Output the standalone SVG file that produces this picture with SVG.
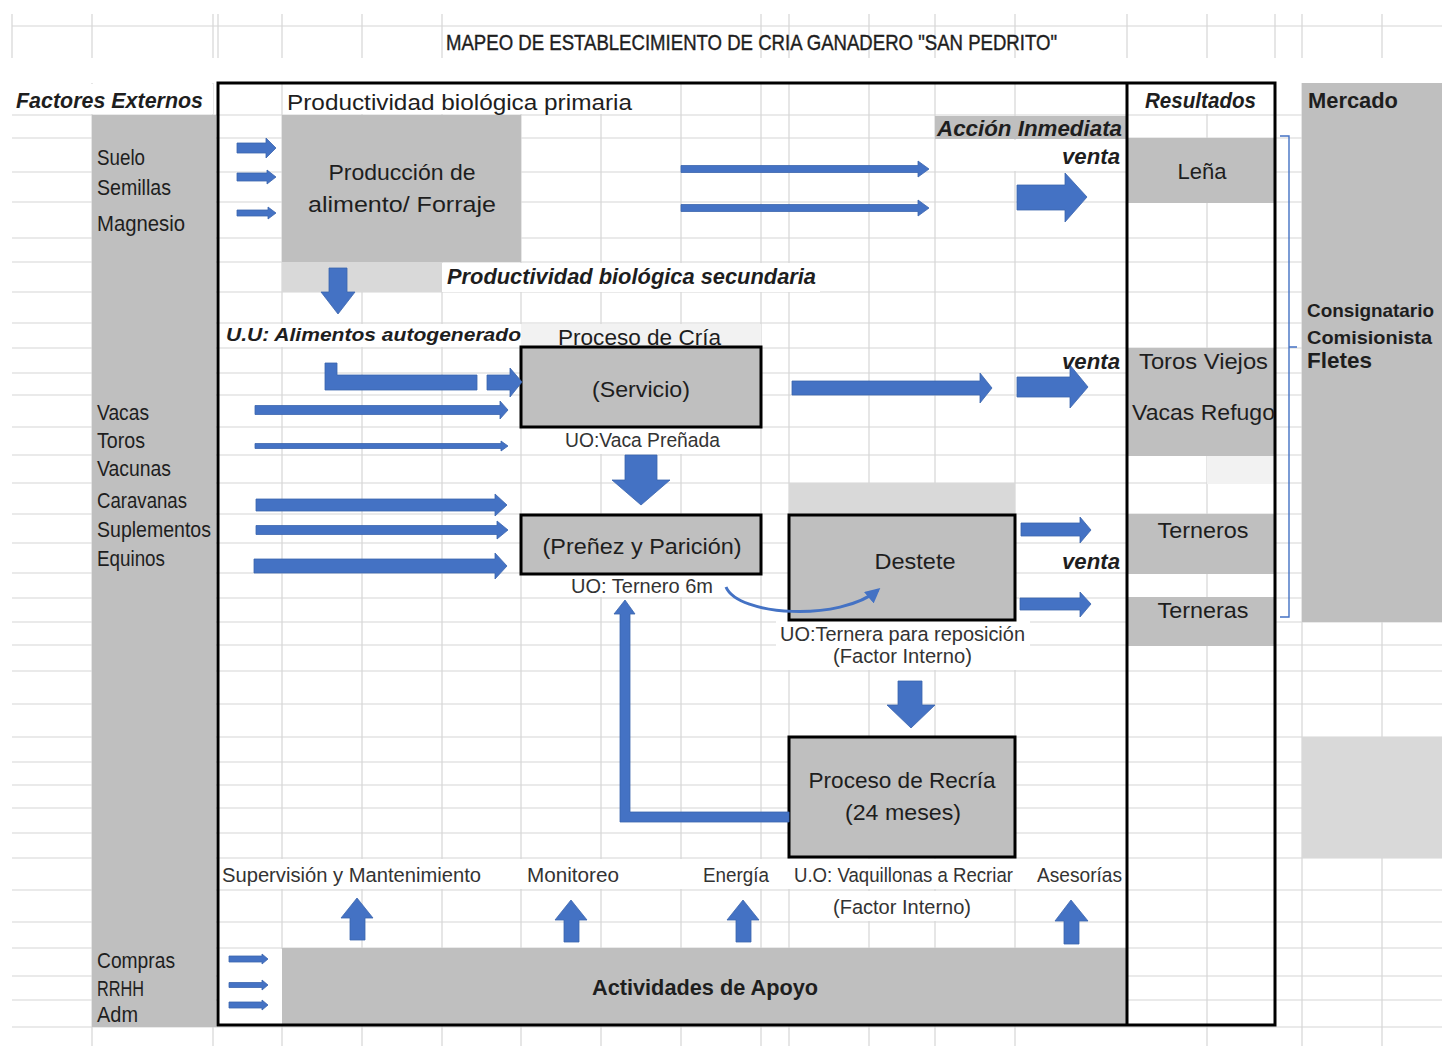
<svg xmlns="http://www.w3.org/2000/svg" width="1442" height="1046" viewBox="0 0 1442 1046">
<defs>
<style>
.g{stroke:#d6d6d6;stroke-width:1.2;fill:none}
.gray{fill:#bfbfbf}
.lg{fill:#d9d9d9}
.wh{fill:#ffffff}
.box{fill:#bfbfbf;stroke:#000;stroke-width:3}
.ar{fill:#4472c4;stroke:#3b64ad;stroke-width:0.8}
text{font-family:"Liberation Sans",Arial,sans-serif;fill:#1e1e1e;font-size:22px}
.s{font-size:20.5px;fill:#333}
.b{font-weight:bold}
.bi{font-weight:bold;font-style:italic}
.c{text-anchor:middle}
.m{font-size:18.5px}
.u{font-size:19px}
</style>
<marker id="ah" viewBox="0 0 10 10" refX="8" refY="5" markerWidth="5" markerHeight="5" orient="auto">
<path d="M0,0 L10,5 L0,10 z" fill="#4472c4"/>
</marker>
</defs>
<rect width="1442" height="1046" fill="#fff"/>
<g id="grid">
<line class="g" x1="12" y1="26" x2="1442" y2="26"/>
<path class="g" d="M12,14V58M92,14V58M213,14V58M218,14V58M282,14V58M362,14V58M442,14V58M761,14V58M789,14V58M869,14V58M935,14V58M1015,14V58M1127,14V58M1207,14V58M1275,14V58M1302,14V58M1382,14V58"/>
<path class="g" d="M12,115H1442M12,138H1442M12,172H1442M12,202H1442M12,238H1442M12,262H1442M12,292H1442M12,323H1442M12,348H1442M12,373H1442M12,395H1442M12,427H1442M12,455H1442M12,483H1442M12,514H1442M12,543H1442M12,573H1442M12,598H1442M12,622H1442M12,645H1442M12,671H1442M12,704H1442M12,737H1442M12,762H1442M12,785H1442M12,808H1442M12,833H1442M12,858H1442M12,890H1442M12,922H1442M12,948H1442M12,976H1442M12,1000H1442M12,1027H1442"/>
<path class="g" d="M92,83V1046M213,83V1046M282,83V1046M362,83V1046M442,83V1046M521,83V1046M601,83V1046M681,83V1046M761,83V1046M789,83V1046M869,83V1046M935,83V1046M1015,83V1046M1207,83V1046M1302,83V1046M1382,83V1046"/>
</g>
<g id="fills">
<rect class="wh" x="12" y="84" width="201" height="30"/>
<rect class="gray" x="92" y="115" width="124" height="912"/>
<rect class="wh" x="283" y="84" width="397" height="30"/>
<rect class="wh" x="1128" y="84" width="146" height="30"/>
<rect class="gray" x="935" y="116" width="191" height="23"/>
<rect class="wh" x="936" y="140" width="190" height="31"/>
<rect class="wh" x="442" y="263" width="378" height="29"/>
<rect class="lg" x="282" y="262" width="160" height="30"/>
<rect class="wh" x="219" y="324" width="302" height="23"/>
<rect fill="#f2f2f2" x="521" y="324" width="240" height="24"/>
<rect class="wh" x="1016" y="349" width="110" height="23"/>
<rect class="wh" x="522" y="428" width="238" height="26"/>
<rect class="wh" x="522" y="575" width="238" height="22"/>
<rect class="wh" x="776" y="621" width="254" height="49"/>
<rect class="wh" x="1016" y="544" width="110" height="28"/>
<rect class="wh" x="219" y="859" width="907" height="30"/>
<rect class="wh" x="790" y="891" width="224" height="30"/>
<rect class="wh" x="219" y="949" width="63" height="76"/>
<rect class="gray" x="282" y="115" width="239" height="147"/>
<rect class="lg" x="789" y="483" width="226" height="31"/>
<rect class="gray" x="282" y="948" width="845" height="77"/>
<rect class="gray" x="1127" y="138" width="148" height="65"/>
<rect class="gray" x="1127" y="348" width="148" height="108"/>
<rect fill="#f2f2f2" x="1207" y="456" width="68" height="28"/>
<rect class="gray" x="1127" y="514" width="148" height="60"/>
<rect class="gray" x="1127" y="597" width="148" height="49"/>
<rect class="gray" x="1302" y="83" width="140" height="539"/>
<rect class="lg" x="1302" y="737" width="140" height="121"/>
</g>
<g id="frame">
<rect x="218" y="83" width="1057" height="942" fill="none" stroke="#000" stroke-width="3"/>
<line x1="1127" y1="83" x2="1127" y2="1025" stroke="#000" stroke-width="3"/>
</g>
<g id="n-servicio"><rect class="box" x="521" y="347" width="240" height="80"/><text class="c" x="641" y="397" textLength="98" lengthAdjust="spacingAndGlyphs">(Servicio)</text></g>
<g id="n-prenez"><rect class="box" x="521" y="515" width="240" height="59"/><text class="c" x="642" y="554" textLength="199" lengthAdjust="spacingAndGlyphs">(Preñez y Parición)</text></g>
<g id="n-destete"><rect class="box" x="789" y="515" width="226" height="105"/><text class="c" x="915" y="569" textLength="81" lengthAdjust="spacingAndGlyphs">Destete</text></g>
<g id="n-recria"><rect class="box" x="789" y="737" width="226" height="120"/><text class="c" x="902" y="788" textLength="187" lengthAdjust="spacingAndGlyphs">Proceso de Recría</text><text class="c" x="903" y="820" textLength="116" lengthAdjust="spacingAndGlyphs">(24 meses)</text></g>
<g id="n-produccion"><text class="c" x="402" y="180" textLength="147" lengthAdjust="spacingAndGlyphs">Producción de</text><text class="c" x="402" y="212" textLength="188" lengthAdjust="spacingAndGlyphs">alimento/ Forraje</text></g>
<g id="n-actividades"><text class="b c" x="705" y="995" textLength="226" lengthAdjust="spacingAndGlyphs">Actividades de Apoyo</text></g>
<g id="connectors">
<polygon class="ar" points="237,143 266,143 266,138 276,148 266,158 266,153 237,153"/>
<polygon class="ar" points="237,173 267,173 267,170 276,177 267,184 267,181 237,181"/>
<polygon class="ar" points="237,210 268,210 268,207 276,213 268,219 268,216 237,216"/>
<polygon class="ar" points="681,165.5 918,165.5 918,161 929,169 918,177 918,172.5 681,172.5"/>
<polygon class="ar" points="681,204.5 918,204.5 918,200 929,208 918,216 918,211.5 681,211.5"/>
<polygon class="ar" points="1017,185 1065,185 1065,173 1087,197 1065,222 1065,210 1017,210"/>
<polygon class="ar" points="329,268 347,268 347,292 355,292 338,314 321,292 329,292"/>
<polygon class="ar" points="325,363 337,363 337,375 477,375 477,390 325,390"/>
<polygon class="ar" points="487,375 510,375 510,368 522,382 510,397 510,390 487,390"/>
<polygon class="ar" points="255,405.5 500,405.5 500,401 508,410 500,419 500,414.5 255,414.5"/>
<polygon class="ar" points="255,443.5 501,443.5 501,441 508,446 501,451 501,448.5 255,448.5"/>
<polygon class="ar" points="792,381 980,381 980,373 992,388 980,403 980,395 792,395"/>
<polygon class="ar" points="1017,377 1070,377 1070,365 1088,387 1070,408 1070,397 1017,397"/>
<polygon class="ar" points="625,455 657,455 657,480 670,480 641,505 612,480 625,480"/>
<polygon class="ar" points="256,499 495,499 495,494 507,505 495,516 495,511 256,511"/>
<polygon class="ar" points="256,525.5 497,525.5 497,521 508,530 497,539 497,534.5 256,534.5"/>
<polygon class="ar" points="254,559 495,559 495,553 507,566 495,579 495,573 254,573"/>
<polygon class="ar" points="1021,523 1080,523 1080,517 1091,530 1080,543 1080,536 1021,536"/>
<polygon class="ar" points="1020,598 1080,598 1080,592 1091,604 1080,617 1080,610 1020,610"/>
<polygon class="ar" points="898,681 922,681 922,705 935,705 911,728 887,705 898,705"/>
<polygon class="ar" points="620,822 789,822 789,812 630,812 630,614 635,614 625,600 614,614 620,614"/>
<path d="M726,587 C738,616 840,622 878,590" fill="none" stroke="#4472c4" stroke-width="3" marker-end="url(#ah)"/>
<polygon class="ar" points="357,898 373,918 365,918 365,940 350,940 350,918 341,918"/>
<polygon class="ar" points="571,900 587,920 579,920 579,942 564,942 564,920 555,920"/>
<polygon class="ar" points="743,900 759,920 751,920 751,942 736,942 736,920 727,920"/>
<polygon class="ar" points="1071,900 1088,921 1079,921 1079,944 1064,944 1064,921 1055,921"/>
<polygon class="ar" points="229,956 262,956 262,954 268,959 262,964 262,962 229,962"/>
<polygon class="ar" points="229,982.5 262,982.5 262,980 268,985 262,990 262,987.5 229,987.5"/>
<polygon class="ar" points="229,1002 262,1002 262,1000 268,1005 262,1010 262,1008 229,1008"/>
<path d="M1280,136H1289V617H1280M1289,347H1297" fill="none" stroke="#4472c4" stroke-width="1.4"/>
</g>
<g id="labels">
<text x="446" y="50" textLength="611" lengthAdjust="spacingAndGlyphs" stroke="#1e1e1e" stroke-width="0.4">MAPEO DE ESTABLECIMIENTO DE CRIA GANADERO "SAN PEDRITO"</text>
<text class="bi" x="16" y="108" textLength="187" lengthAdjust="spacingAndGlyphs">Factores Externos</text>
<text x="287" y="110" textLength="345" lengthAdjust="spacingAndGlyphs">Productividad biológica primaria</text>
<text class="bi" x="1145" y="108" textLength="111" lengthAdjust="spacingAndGlyphs">Resultados</text>
<text class="b" x="1308" y="108" textLength="90" lengthAdjust="spacingAndGlyphs">Mercado</text>
<text x="97" y="165" textLength="48" lengthAdjust="spacingAndGlyphs">Suelo</text>
<text x="97" y="195" textLength="74" lengthAdjust="spacingAndGlyphs">Semillas</text>
<text x="97" y="231" textLength="88" lengthAdjust="spacingAndGlyphs">Magnesio</text>
<text class="bi" x="937" y="136" textLength="185" lengthAdjust="spacingAndGlyphs">Acción Inmediata</text>
<text class="bi" x="1062" y="164" textLength="58" lengthAdjust="spacingAndGlyphs">venta</text>
<text class="c" x="1202" y="179" textLength="49" lengthAdjust="spacingAndGlyphs">Leña</text>
<text class="bi" x="447" y="284" textLength="369" lengthAdjust="spacingAndGlyphs">Productividad biológica secundaria</text>
<text class="bi u" x="226" y="341" textLength="295" lengthAdjust="spacingAndGlyphs">U.U: Alimentos autogenerado</text>
<text x="558" y="345" textLength="163" lengthAdjust="spacingAndGlyphs">Proceso de Cría</text>
<text class="bi" x="1062" y="369" textLength="58" lengthAdjust="spacingAndGlyphs">venta</text>
<text x="1139" y="369" textLength="129" lengthAdjust="spacingAndGlyphs">Toros Viejos</text>
<text x="1132" y="420" textLength="143" lengthAdjust="spacingAndGlyphs">Vacas Refugo</text>
<text class="b m" x="1307" y="317" textLength="127" lengthAdjust="spacingAndGlyphs">Consignatario</text>
<text class="b m" x="1307" y="344" textLength="125" lengthAdjust="spacingAndGlyphs">Comisionista</text>
<text class="b" x="1307" y="368" textLength="65" lengthAdjust="spacingAndGlyphs">Fletes</text>
<text x="97" y="420" textLength="52" lengthAdjust="spacingAndGlyphs">Vacas</text>
<text x="97" y="448" textLength="48" lengthAdjust="spacingAndGlyphs">Toros</text>
<text x="97" y="476" textLength="74" lengthAdjust="spacingAndGlyphs">Vacunas</text>
<text x="97" y="508" textLength="90" lengthAdjust="spacingAndGlyphs">Caravanas</text>
<text x="97" y="537" textLength="114" lengthAdjust="spacingAndGlyphs">Suplementos</text>
<text x="97" y="566" textLength="68" lengthAdjust="spacingAndGlyphs">Equinos</text>
<text class="s" x="565" y="447" textLength="155" lengthAdjust="spacingAndGlyphs">UO:Vaca Preñada</text>
<text class="c" x="1203" y="538" textLength="91" lengthAdjust="spacingAndGlyphs">Terneros</text>
<text class="bi" x="1062" y="569" textLength="58" lengthAdjust="spacingAndGlyphs">venta</text>
<text class="c" x="1203" y="618" textLength="91" lengthAdjust="spacingAndGlyphs">Terneras</text>
<text class="s" x="571" y="593" textLength="142" lengthAdjust="spacingAndGlyphs">UO: Ternero 6m</text>
<text class="s" x="780" y="641" textLength="245" lengthAdjust="spacingAndGlyphs">UO:Ternera para reposición</text>
<text class="s" x="833" y="663" textLength="139" lengthAdjust="spacingAndGlyphs">(Factor Interno)</text>
<text class="s" x="222" y="882" textLength="259" lengthAdjust="spacingAndGlyphs">Supervisión y Mantenimiento</text>
<text class="s" x="527" y="882" textLength="92" lengthAdjust="spacingAndGlyphs">Monitoreo</text>
<text class="s" x="703" y="882" textLength="66" lengthAdjust="spacingAndGlyphs">Energía</text>
<text class="s" x="794" y="882" textLength="219" lengthAdjust="spacingAndGlyphs">U.O: Vaquillonas a Recriar</text>
<text class="s" x="1037" y="882" textLength="85" lengthAdjust="spacingAndGlyphs">Asesorías</text>
<text class="s" x="833" y="914" textLength="138" lengthAdjust="spacingAndGlyphs">(Factor Interno)</text>
<text x="97" y="968" textLength="78" lengthAdjust="spacingAndGlyphs">Compras</text>
<text x="97" y="996" textLength="47" lengthAdjust="spacingAndGlyphs">RRHH</text>
<text x="97" y="1022" textLength="41" lengthAdjust="spacingAndGlyphs">Adm</text>
</g>
</svg>
